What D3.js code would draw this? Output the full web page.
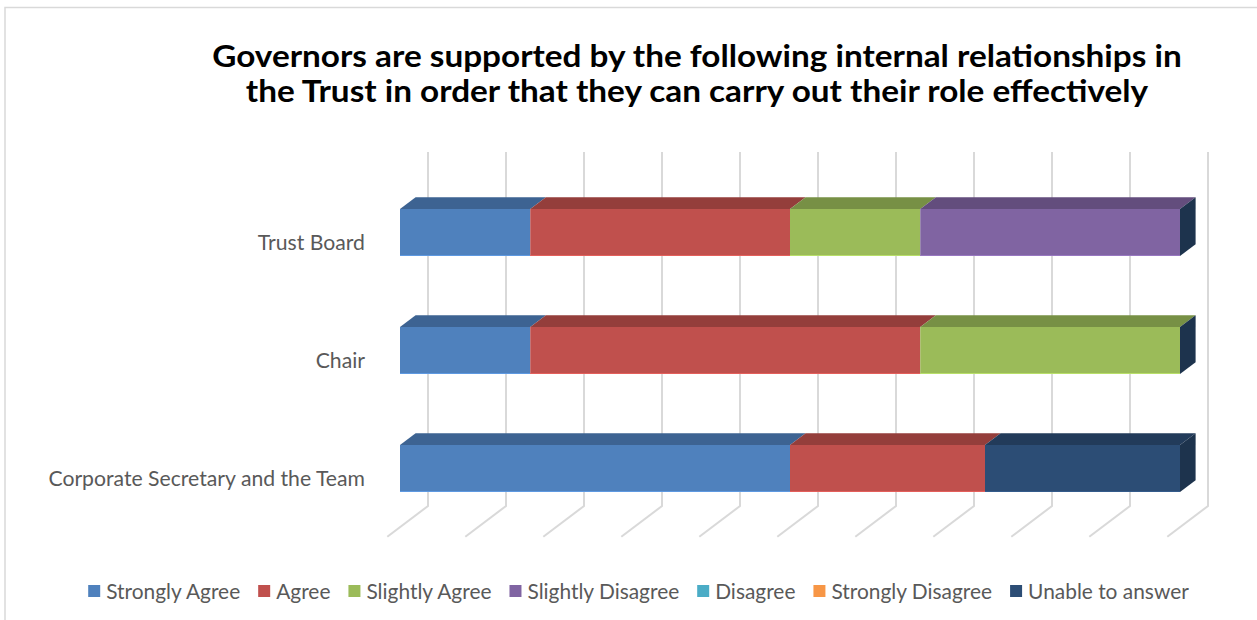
<!DOCTYPE html>
<html>
<head>
<meta charset="utf-8">
<script src="https://cdn.jsdelivr.net/npm/d3@7/dist/d3.min.js"></script>
<style>
  html, body { margin: 0; padding: 0; background: #fff; }
  svg { display: block; }
</style>
</head>
<body>
<svg id="chart" width="1257" height="620"></svg>
<script>
// Survey responses (percent of governors) per relationship
const categories = ["Trust Board", "Chair", "Corporate Secretary and the Team"];
const seriesNames = ["Strongly Agree", "Agree", "Slightly Agree", "Slightly Disagree",
                     "Disagree", "Strongly Disagree", "Unable to answer"];
const seriesColors = ["#4F81BD", "#C0504D", "#9BBB59", "#8064A2", "#4BACC6", "#F79646", "#2C4D75"];
const trustBoardValues = [16.7, 33.3, 16.7, 33.3, 0, 0, 0];
const chairValues = [16.7, 50.0, 33.3, 0, 0, 0, 0];
const corporateSecretaryValues = [50.0, 25.0, 0, 0, 0, 0, 25.0];
const tickValues = [0, 10, 20, 30, 40, 50, 60, 70, 80, 90, 100];
const titleLines = [
  "Governors are supported by the following internal relationships in",
  "the Trust in order that they can carry out their role effectively"
];

const svg = d3.select("#chart");
const font = "Lato, 'Open Sans', sans-serif";

// chart area border
svg.append("rect")
  .attr("x", 5).attr("y", 7.5)
  .attr("width", 1400).attr("height", 700)
  .attr("fill", "none").attr("stroke", "#d9d9d9").attr("stroke-width", 1.5);

// layout of the 3D plot
const barLeft = 400, barRight = 1180;
const barH = 47;
const depthX = 15.6, depthY = 11.7;            // bar thickness projection
const wallDX = 28, wallDY = 21;                // bar front plane -> back wall
const floorDX = 40.7, floorDY = 30.7;          // back wall -> floor front edge
const gridTop = 152, floorBack = 506;

const x = d3.scaleLinear().domain([0, 100]).range([barLeft, barRight]);
const y = d3.scalePoint().domain(categories).range([232.5, 468.5]);

const rows = [trustBoardValues, chairValues, corporateSecretaryValues].map((vals, i) => {
  const r = { category: categories[i] };
  seriesNames.forEach((s, j) => r[s] = vals[j]);
  return r;
});
const stacked = d3.stack().keys(seriesNames)(rows);

// back wall gridlines and floor lines
const grid = svg.append("g").attr("stroke", "#d9d9d9").attr("stroke-width", 2).attr("fill", "none");
tickValues.forEach(t => {
  const gx = x(t) + wallDX;
  grid.append("path")
    .attr("d", `M${gx},${gridTop}L${gx},${floorBack}L${gx - floorDX},${floorBack + floorDY}`);
});

const shade = (c, k) => { const h = d3.rgb(c); return d3.rgb(h.r * k, h.g * k, h.b * k).formatHex(); };

// bars
const bars = svg.append("g");
categories.forEach((cat, ci) => {
  const yTop = y(cat) - barH / 2, yBot = y(cat) + barH / 2;
  stacked.forEach((layer, si) => {
    const d = layer[ci];
    const x0 = x(d[0]), x1 = x(d[1]);
    if (x1 - x0 <= 0) return;
    const col = seriesColors[si];
    bars.append("rect")
      .attr("x", x0).attr("y", yTop).attr("width", x1 - x0).attr("height", barH)
      .attr("fill", col);
    bars.append("line")
      .attr("x1", x0).attr("x2", x1).attr("y1", yBot - 0.5).attr("y2", yBot - 0.5)
      .attr("stroke", d3.rgb(col).brighter(0.6)).attr("stroke-width", 1).attr("opacity", 0.8);
    bars.append("path")
      .attr("d", `M${x0},${yTop}L${x0 + depthX},${yTop - depthY}L${x1 + depthX},${yTop - depthY}L${x1},${yTop}Z`)
      .attr("fill", shade(col, 0.77));
  });
  // end cap of the stack
  const xe = x(d3.sum(seriesNames, s => rows[ci][s]));
  bars.append("path")
    .attr("d", `M${xe},${yTop}L${xe + depthX},${yTop - depthY}L${xe + depthX},${yBot - depthY}L${xe},${yBot}Z`)
    .attr("fill", shade(seriesColors[seriesColors.length - 1], 0.66));
});

// category labels
svg.append("g").selectAll("text").data(categories).join("text")
  .attr("x", 365).attr("y", d => y(d) + 17.5)
  .attr("text-anchor", "end")
  .attr("font-family", font).attr("font-size", 21.2).attr("fill", "#595959")
  .text(d => d);

// title: slightly condensed bold lines
svg.append("g").selectAll("text").data(titleLines).join("text")
  .attr("x", 697).attr("y", (d, i) => 67 + i * 35)
  .attr("text-anchor", "middle")
  .attr("font-family", font).attr("font-weight", "bold").attr("font-size", 31).attr("fill", "#000")
  .text(d => d)
  .each(function () {
    const w = this.getComputedTextLength();
    d3.select(this).attr("textLength", w * 1.074).attr("lengthAdjust", "spacingAndGlyphs");
  });

// legend
const legend = svg.append("g");
let lx = 0;
const items = seriesNames.map((s, i) => {
  const g = legend.append("g");
  g.append("rect").attr("x", 0).attr("y", -14).attr("width", 12).attr("height", 12).attr("fill", seriesColors[i]);
  const t = g.append("text").attr("x", 18).attr("y", 0)
    .attr("font-family", font).attr("font-size", 20.9).attr("fill", "#595959").text(s);
  const w = 18 + t.node().getComputedTextLength();
  g.attr("transform", `translate(${lx},0)`);
  lx += w + 18;
  return g;
});
const legendW = lx - 18;
legend.attr("transform", `translate(${638.5 - legendW / 2},599)`);
</script>
</body>
</html>
